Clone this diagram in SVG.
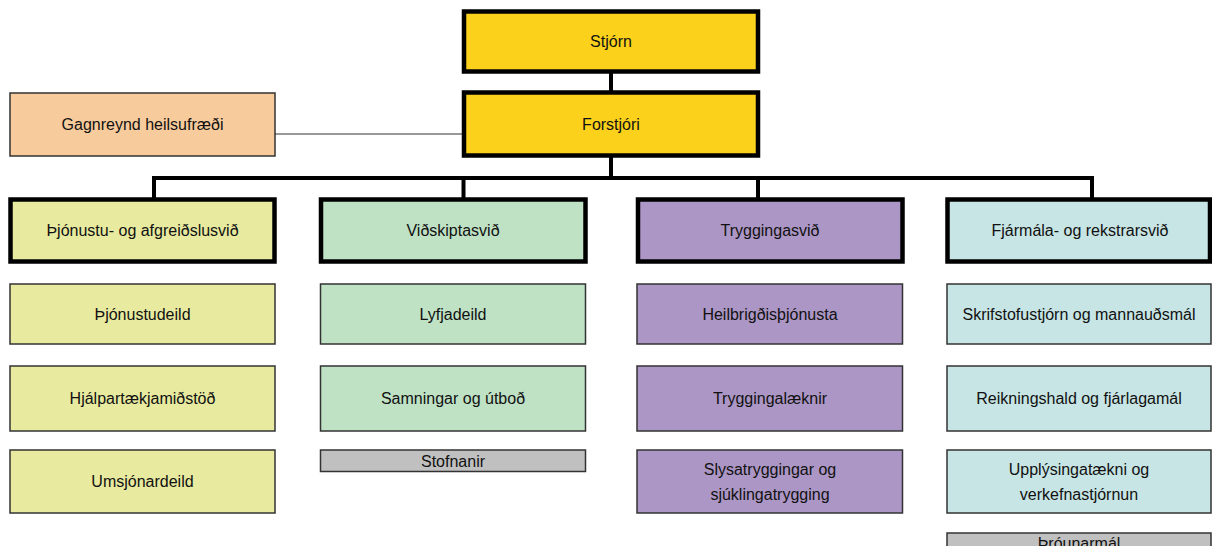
<svg xmlns="http://www.w3.org/2000/svg" width="1212" height="546" viewBox="0 0 1212 546">
<style>
.thick{stroke:#000;stroke-width:4.5}
.thin{stroke:#333;stroke-width:1.5}
.gold{fill:#FCD11C}
.peach{fill:#F8CB9C}
.c1{fill:#E8EB9F}
.c2{fill:#BFE2C5}
.c3{fill:#AC96C5}
.c4{fill:#C7E5E4}
.gray{fill:#C0C0C0}
text{font-family:"Liberation Sans",Arial,sans-serif;font-size:16px;fill:#111;text-anchor:middle}
.conn{stroke:#000;stroke-width:4;fill:none}
.connthin{stroke:#333;stroke-width:1.2;fill:none}
</style>
<rect width="1212" height="546" fill="#fff"/>
<g id="connectors">
<line class="connthin" x1="275" y1="134" x2="464" y2="134"/>
<line class="conn" x1="611" y1="71.5" x2="611" y2="92.5"/>
<polyline class="conn" points="611,155.5 611,178"/>
<line class="conn" x1="152" y1="178" x2="1094" y2="178"/>
<line class="conn" x1="154" y1="178" x2="154" y2="199.5"/>
<line class="conn" x1="463.5" y1="178" x2="463.5" y2="199.5"/>
<line class="conn" x1="758" y1="178" x2="758" y2="199.5"/>
<line class="conn" x1="1092" y1="176" x2="1092" y2="199.5"/>
</g>
<g id="stjorn"><rect class="gold thick" x="464" y="11.5" width="294" height="60"/><text x="611" y="47">Stjórn</text></g>
<g id="forstjori"><rect class="gold thick" x="464" y="92.5" width="294" height="63"/><text x="611" y="129.5">Forstjóri</text></g>
<g id="gagnreynd"><rect class="peach thin" x="10" y="93" width="265" height="63"/><text x="142.5" y="130">Gagnreynd heilsufræði</text></g>

<g id="thjonustusvid"><rect class="c1 thick" x="10.5" y="199.5" width="264" height="62"/><text x="142.5" y="236">Þjónustu- og afgreiðslusvið</text></g>
<g id="vidskiptasvid"><rect class="c2 thick" x="321" y="199.5" width="264.5" height="62"/><text x="453" y="236">Viðskiptasvið</text></g>
<g id="tryggingasvid"><rect class="c3 thick" x="638" y="199.5" width="264.5" height="62"/><text x="770" y="236">Tryggingasvið</text></g>
<g id="fjarmalasvid"><rect class="c4 thick" x="947.5" y="199.5" width="262.5" height="62"/><text x="1080" y="236">Fjármála- og rekstrarsvið</text></g>

<g id="thjonustudeild"><rect class="c1 thin" x="10" y="284" width="265" height="60"/><text x="142.5" y="319.5">Þjónustudeild</text></g>
<g id="hjalpartaekjamidstod"><rect class="c1 thin" x="10" y="366" width="265" height="65"/><text x="142.5" y="404">Hjálpartækjamiðstöð</text></g>
<g id="umsjonardeild"><rect class="c1 thin" x="10" y="450" width="265" height="63"/><text x="142.5" y="487">Umsjónardeild</text></g>

<g id="lyfjadeild"><rect class="c2 thin" x="320.5" y="284" width="265" height="60"/><text x="453" y="319.5">Lyfjadeild</text></g>
<g id="samningar"><rect class="c2 thin" x="320.5" y="366" width="265" height="65"/><text x="453" y="404">Samningar og útboð</text></g>
<g id="stofnanir"><rect class="gray thin" x="320.5" y="450" width="265" height="21.5"/><text x="453" y="466.5">Stofnanir</text></g>

<g id="heilbrigdis"><rect class="c3 thin" x="637" y="284" width="265.5" height="60"/><text x="770" y="319.5">Heilbrigðisþjónusta</text></g>
<g id="tryggingalaeknir"><rect class="c3 thin" x="637" y="366" width="265.5" height="65"/><text x="770" y="404">Tryggingalæknir</text></g>
<g id="slysatryggingar"><rect class="c3 thin" x="637" y="450" width="265.5" height="63"/><text x="770" y="475">Slysatryggingar og</text><text x="770" y="500">sjúklingatrygging</text></g>

<g id="skrifstofustjorn"><rect class="c4 thin" x="947" y="284" width="264" height="60"/><text x="1079" y="319.5">Skrifstofustjórn og mannauðsmál</text></g>
<g id="reikningshald"><rect class="c4 thin" x="947" y="366" width="264" height="65"/><text x="1079" y="404">Reikningshald og fjárlagamál</text></g>
<g id="upplysingataekni"><rect class="c4 thin" x="947" y="450" width="264" height="63"/><text x="1079" y="475">Upplýsingatækni og</text><text x="1079" y="500">verkefnastjórnun</text></g>
<g id="throunarmal"><rect class="gray thin" x="947" y="533" width="264" height="22"/><text x="1079" y="549">Þróunarmál</text></g>
</svg>
